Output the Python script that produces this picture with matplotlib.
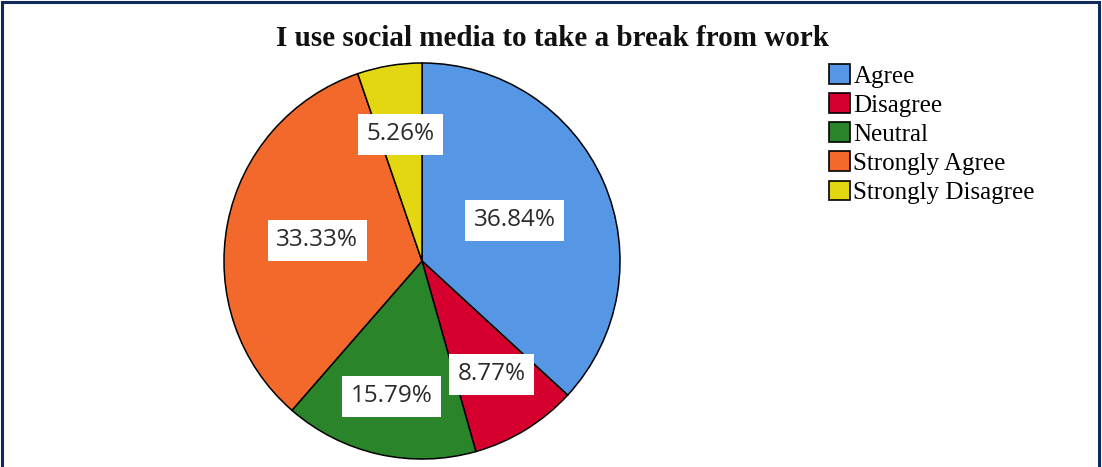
import matplotlib
matplotlib.use('Agg')
import matplotlib.pyplot as plt
import matplotlib.patches as mpatches
import numpy as np

categories = ['Agree', 'Disagree', 'Neutral', 'Strongly Agree', 'Strongly Disagree']
shares = [36.84, 8.77, 15.79, 33.33, 5.26]
colors = ['#5597e5', '#d6002f', '#2a852a', '#f2692b', '#e3d712']
# radial position of each percentage label, as a fraction of the radius
label_r = [0.51, 0.67, 0.70, 0.54, 0.65]

W, H = 1102, 467
fig = plt.figure(figsize=(W / 100, H / 100), dpi=100)

cx, cy, r = 422, 261, 200
ax = fig.add_axes([(cx - r) / W, (H - cy - r) / H, 2 * r / W, 2 * r / H])
wedges, _ = ax.pie(shares, colors=colors, startangle=90, counterclock=False,
                   wedgeprops=dict(edgecolor='black', linewidth=1.1))
ax.set_xlim(-1.01, 1.01)
ax.set_ylim(-1.01, 1.01)
ax.set_aspect('equal')
ax.axis('off')

for w, val, lr in zip(wedges, shares, label_r):
    ang = np.deg2rad((w.theta1 + w.theta2) / 2)
    ax.text(lr * np.cos(ang), lr * np.sin(ang), f'{val:.2f}%', ha='center', va='center',
            fontsize=17.5, family='Open Sans', color='#2a2a2a',
            bbox=dict(boxstyle='square,pad=0.35', fc='white', ec='none'))

fig.text(553 / W, 1 - 38 / H, 'I use social media to take a break from work',
         ha='center', va='center', fontsize=21, fontweight='bold',
         family='Liberation Serif', color='#111111')

handles = [mpatches.Patch(facecolor=c, edgecolor='black', linewidth=1.2) for c in colors]
fig.legend(handles, categories, loc='upper left', bbox_to_anchor=(829 / W, 1 - 64 / H),
           frameon=False, handlelength=0.85, handleheight=0.85, handletextpad=0.12,
           labelspacing=0.22, borderpad=0, borderaxespad=0,
           prop=dict(family='Liberation Serif', size=18))

# navy frame around the figure
fig.add_artist(mpatches.Rectangle((2 / W, -0.05), (W - 5) / W, 1.05 - 2 / H,
                                  transform=fig.transFigure, fill=False,
                                  edgecolor='#0d2a5a', linewidth=2.2))

fig.savefig('out.png', dpi=100)
